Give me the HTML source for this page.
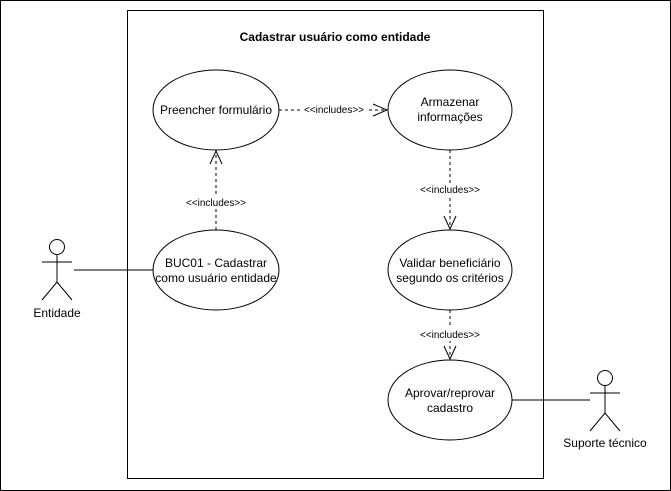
<!DOCTYPE html>
<html><head><meta charset="utf-8"><style>
html,body{margin:0;padding:0;background:#fff}
svg{display:block}
text{font-family:"Liberation Sans",Arial,sans-serif;fill:#000}
</style></head><body>
<svg width="671" height="491" viewBox="0 0 671 491" xmlns="http://www.w3.org/2000/svg">
<rect x="0.5" y="0.5" width="670" height="490" fill="#fff" stroke="#000"/>
<rect x="127.5" y="10.5" width="416" height="468" fill="#fff" stroke="#000"/>
<text x="335" y="41" font-size="12" font-weight="bold" text-anchor="middle">Cadastrar usuário como entidade</text>
<g fill="#fff" stroke="#000">
<ellipse cx="216" cy="110" rx="63" ry="40"/>
<ellipse cx="450" cy="110" rx="62" ry="40"/>
<ellipse cx="216" cy="270" rx="63" ry="40"/>
<ellipse cx="450" cy="270" rx="62" ry="40"/>
<ellipse cx="450" cy="400" rx="62" ry="40"/>
</g>
<g font-size="12" text-anchor="middle">
<text x="216" y="114">Preencher formulário</text>
<text x="450" y="106">Armazenar</text>
<text x="450" y="121">informações</text>
<text x="216" y="267">BUC01 - Cadastrar</text>
<text x="216" y="282">como usuário entidade</text>
<text x="450" y="267">Validar beneficiário</text>
<text x="450" y="282">segundo os critérios</text>
<text x="450" y="397">Aprovar/reprovar</text>
<text x="450" y="412">cadastro</text>
</g>
<g stroke="#000" fill="none" stroke-dasharray="3,3">
<line x1="279" y1="110" x2="387" y2="110"/>
<line x1="216" y1="230" x2="216" y2="151"/>
<line x1="450" y1="150" x2="450" y2="229"/>
<line x1="450" y1="310" x2="450" y2="359"/>
</g>
<g stroke="#000" fill="none">
<polyline points="373,104 387,110 373,116"/>
<polyline points="210,164 216,151 222,164"/>
<polyline points="444,216 450,229 456,216"/>
<polyline points="444,346 450,359 456,346"/>
</g>
<g font-size="10" text-anchor="middle">
<rect x="302" y="103" width="64" height="13" fill="#fff"/>
<text x="334" y="113">&lt;&lt;includes&gt;&gt;</text>
<rect x="184" y="196" width="64" height="13" fill="#fff"/>
<text x="216" y="206">&lt;&lt;includes&gt;&gt;</text>
<rect x="418" y="183" width="64" height="13" fill="#fff"/>
<text x="450" y="193">&lt;&lt;includes&gt;&gt;</text>
<rect x="418" y="328" width="64" height="13" fill="#fff"/>
<text x="450" y="338">&lt;&lt;includes&gt;&gt;</text>
</g>
<g stroke="#000" fill="#fff">
<circle cx="57" cy="247" r="7.5"/>
<line x1="57" y1="255" x2="57" y2="282"/>
<line x1="42" y1="262" x2="72" y2="262"/>
<polyline points="42,300 57,282 72,300" fill="none"/>
<line x1="74" y1="270" x2="153" y2="270"/>
<circle cx="605" cy="378" r="7.5"/>
<line x1="605" y1="386" x2="605" y2="413"/>
<line x1="590" y1="393" x2="620" y2="393"/>
<polyline points="590,431 605,413 620,431" fill="none"/>
<line x1="512" y1="400" x2="590" y2="400"/>
</g>
<g font-size="12" text-anchor="middle">
<text x="57" y="317">Entidade</text>
<text x="605" y="447">Suporte técnico</text>
</g>
</svg>
</body></html>
